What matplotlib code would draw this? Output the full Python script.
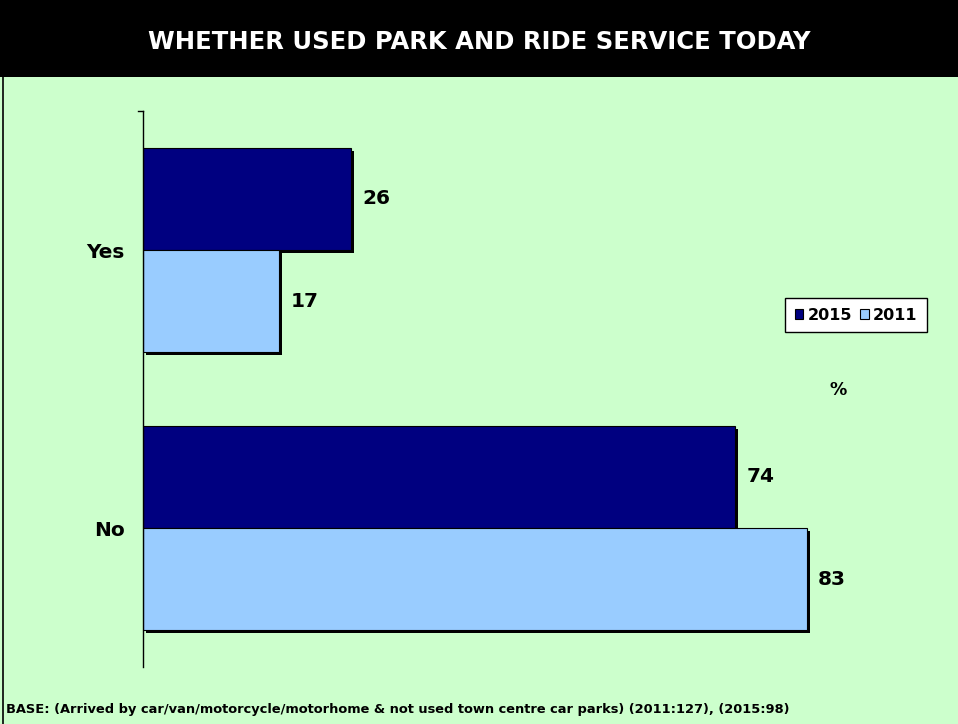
import matplotlib.pyplot as plt
import matplotlib.patheffects as pe
from matplotlib.patches import Rectangle
from matplotlib.lines import Line2D
import numpy as np

categories = ["No", "Yes"]
values_2015 = [74, 26]
values_2011 = [83, 17]
series_names = ["2015", "2011"]

NAVY = "#000080"
LIGHT = "#99CCFF"
GREEN = "#CCFFCC"

fig = plt.figure(figsize=(9.58, 7.24), dpi=100)
fig.patch.set_facecolor(GREEN)

# black title band
fig.add_artist(Rectangle((0, 1 - 77 / 724), 1, 77 / 724, transform=fig.transFigure,
                         facecolor="black", edgecolor="none", zorder=0))
fig.add_artist(Line2D([3 / 958, 3 / 958], [0, 1], transform=fig.transFigure,
                      color="black", linewidth=1.2))
fig.text(0.5, 1 - 42 / 724, "WHETHER USED PARK AND RIDE SERVICE TODAY",
         color="white", fontsize=17.5, fontweight="bold", ha="center", va="center")

ax = fig.add_axes([143 / 958, 57 / 724, 800 / 958, 556 / 724])
ax.set_facecolor("none")

y = np.arange(len(categories))
h = 0.367
shadow = [pe.SimplePatchShadow(offset=(2.4, -2.4), shadow_rgbFace="black", alpha=1.0),
          pe.Normal()]

bars15 = ax.barh(y + h / 2, values_2015, height=h, color=NAVY, edgecolor="black",
                 linewidth=0.8, label=series_names[0])
bars11 = ax.barh(y - h / 2, values_2011, height=h, color=LIGHT, edgecolor="black",
                 linewidth=0.8, label=series_names[1])

for bars, vals in ((bars15, values_2015), (bars11, values_2011)):
    for b, v in zip(bars, vals):
        ax.text(v + 1.4, b.get_y() + b.get_height() / 2, str(v), fontsize=14.5,
                fontweight="bold", ha="left", va="center")

ax.set_xlim(0, 100)
ax.set_ylim(-0.5, 1.5)
ax.set_yticks(y)
ax.set_yticklabels(categories, fontsize=14.5, fontweight="bold")
ax.tick_params(axis="y", length=0, pad=13)
ax.set_xticks([])
for s in ("top", "right", "bottom"):
    ax.spines[s].set_visible(False)
ax.spines["left"].set_linewidth(1)
# small tick at the top of the axis
ax.plot([-0.6, 0], [1.5, 1.5], color="black", linewidth=1, clip_on=False)

leg = ax.legend(loc="upper left", bbox_to_anchor=(785 / 958, 1 - 298 / 724),
                bbox_transform=fig.transFigure, ncol=2, frameon=True, fancybox=False,
                framealpha=1, prop={"weight": "bold", "size": 11.5},
                handlelength=0.55, handleheight=0.55, handletextpad=0.25,
                columnspacing=0.5, borderpad=0.6, borderaxespad=0)
leg.get_frame().set_edgecolor("black")
leg.get_frame().set_facecolor("white")
leg.get_frame().set_linewidth(1)

# drop shadows on the bars only, after the legend copied their style
for b in list(bars15) + list(bars11):
    b.set_path_effects(shadow)

fig.text(838 / 958, 1 - 390 / 724, "%", fontsize=12.5, fontweight="bold",
         ha="center", va="center")

fig.text(6 / 958, 1 - 710 / 724,
         "BASE: (Arrived by car/van/motorcycle/motorhome & not used town centre car parks) (2011:127), (2015:98)",
         fontsize=9.4, fontweight="bold", ha="left", va="center")

fig.savefig("out.png", dpi=100, facecolor=fig.get_facecolor())
